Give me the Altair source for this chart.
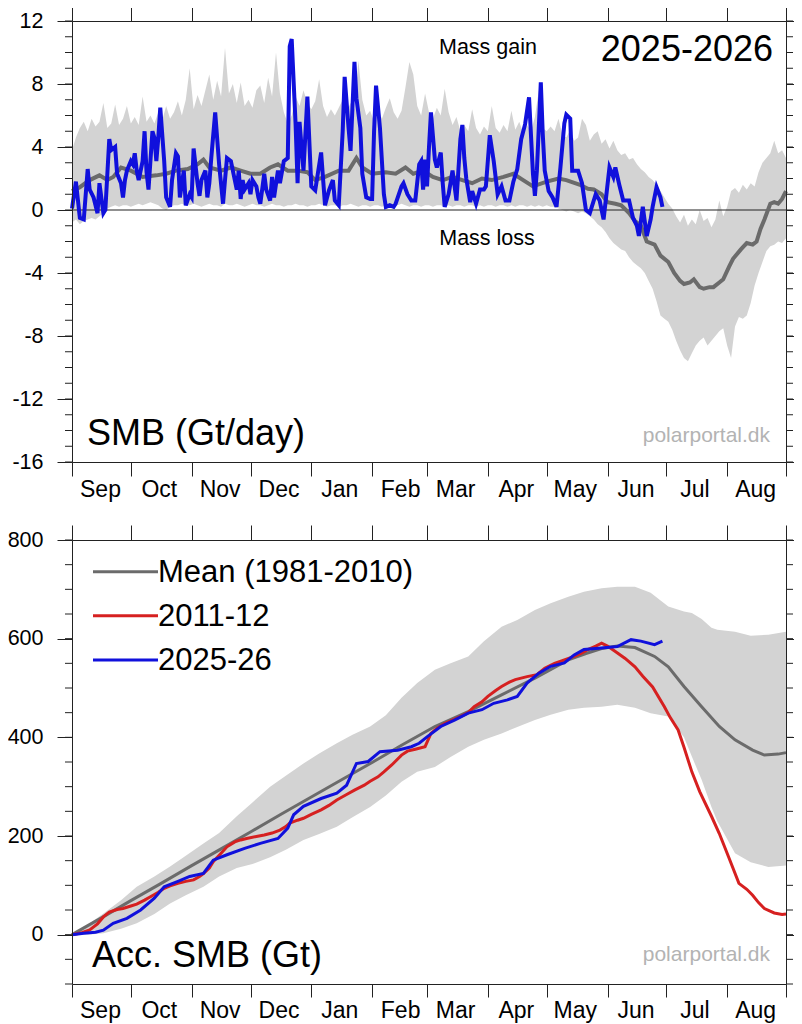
import altair as alt
import pandas as pd

FONT = "Liberation Sans"
AXIS_COLOR = "#222222"
BAND_COLOR = "#d3d3d3"
MEAN_COLOR = "#6b6b6b"
BLUE = "#1010dc"
RED = "#d62020"
WATERMARK = "#b3b3b3"

W = 714
H_TOP = 441
H_BOT = 444

# ---------------- axis categories ----------------
month_starts = [0, 30, 61, 91, 122, 153, 181, 212, 242, 273, 303, 334, 364]
month_names = ["Sep", "Oct", "Nov", "Dec", "Jan", "Feb", "Mar", "Apr", "May", "Jun", "Jul", "Aug"]

top_y_major = [-16, -12, -8, -4, 0, 4, 8, 12]
top_y_minor = list(range(-16, 13))
bot_y_major = [0, 200, 400, 600, 800]
bot_y_minor = list(range(-100, 801, 50))

# ---------------- top panel: daily SMB (Gt/day) ----------------
# 1981-2010 range band, every second day from 1 Sep (day 0) to 31 Aug (day 364)
smb_band_step = 2
smb_band_upper = [
    3.8, 4.6, 5.2, 5.6, 5.0, 5.8, 5.3, 5.6, 6.8, 5.2,
    5.5, 6.7, 5.4, 5.8, 6.6, 5.5, 5.9, 5.4, 7.2, 5.6,
    6.0, 5.5, 6.2, 5.7, 6.6, 5.8, 6.2, 6.9, 6.0, 7.0,
    9.0, 6.4, 7.3, 6.6, 7.6, 8.6, 7.0, 8.2, 7.2, 10.3,
    7.4, 8.0, 6.8, 8.1, 6.6, 7.0, 6.5, 7.6, 7.9, 6.8,
    8.4, 7.2, 10.0, 7.4, 6.2, 5.5, 6.0, 7.2, 6.6, 7.6,
    6.8, 6.4, 6.9, 8.3, 6.6, 5.9, 6.4, 6.0, 6.5, 7.0,
    6.2, 6.8, 6.4, 9.5, 7.0, 6.0, 6.3, 5.6, 6.4, 5.8,
    6.5, 7.1, 6.2, 5.8, 6.3, 7.8, 9.4, 8.6, 6.6, 6.0,
    7.4, 6.2, 5.8, 6.5, 6.0, 7.7, 6.2, 5.4, 5.9, 5.0,
    5.4, 5.0, 6.4, 5.2, 4.8, 5.3, 5.0, 6.6, 5.2, 4.9,
    5.4, 5.0, 6.3, 5.1, 5.6, 4.9, 5.4, 5.0, 5.9, 7.6,
    5.2, 5.0, 5.3, 5.0, 5.8, 4.8, 4.6, 5.1, 4.4, 4.6,
    5.8, 5.4, 4.4, 4.8, 5.0, 4.2, 4.5, 3.9, 4.4, 3.8,
    3.5, 3.6, 3.2, 3.3, 2.9, 2.6, 2.4, 2.1, 1.9, 1.6,
    1.2, 0.8, 0.4, 0.1, -0.4, -0.8, -0.3, -1.0, -0.6, -0.9,
    0.0, -0.7, -0.5, -1.1, -0.6, 0.6, -0.4, 0.2, 1.2, 1.4,
    1.1, 1.6, 1.3, 1.7, 1.5, 2.4, 3.0, 3.3, 3.6, 4.4,
    3.6, 3.8, 3.3,
]
smb_band_lower = [
    -0.8, -0.6, -0.9, -0.7, -0.6, -0.5, -0.6, -0.4, -0.2, 0.1,
    0.2, 0.3, 0.2, 0.3, 0.3, 0.2, 0.3, 0.4, 0.3, 0.4,
    0.5, 0.4, 0.3, 0.1, 0.0, 0.2, 0.3, 0.3, 0.4, 0.3,
    0.3, 0.4, 0.3, 0.2, 0.3, 0.4, 0.3, 0.3, 0.2, 0.4,
    0.3, 0.3, 0.4, 0.3, 0.2, 0.3, 0.4, 0.3, 0.3, 0.2,
    0.3, 0.4, 0.3, 0.3, 0.2, 0.3, 0.3, 0.4, 0.3, 0.3,
    0.2, 0.3, 0.3, 0.4, 0.3, 0.2, 0.3, 0.3, 0.2, 0.3,
    0.3, 0.4, 0.3, 0.2, 0.3, 0.3, 0.2, 0.3, 0.3, 0.2,
    0.3, 0.3, 0.2, 0.3, 0.4, 0.3, 0.2, 0.3, 0.3, 0.2,
    0.3, 0.3, 0.2, 0.3, 0.3, 0.2, 0.3, 0.2, 0.3, 0.3,
    0.2, 0.3, 0.3, 0.2, 0.3, 0.2, 0.3, 0.3, 0.2, 0.3,
    0.3, 0.2, 0.3, 0.2, 0.3, 0.3, 0.2, 0.3, 0.2, 0.3,
    0.2, 0.3, 0.2, 0.2, 0.1, 0.0, -0.1, 0.0, -0.1, -0.2,
    -0.1, -0.2, -0.4, -0.6, -0.9, -1.1, -1.4, -1.8, -2.1, -2.3,
    -2.5, -2.6, -3.0, -3.3, -3.5, -3.7, -4.0, -4.5, -5.0, -5.8,
    -6.7, -6.9, -7.1, -7.6, -8.3, -8.9, -9.4, -9.6, -9.1, -8.6,
    -8.3, -8.1, -8.6, -8.3, -8.0, -7.7, -7.5, -8.6, -9.4, -7.4,
    -6.8, -6.9, -6.7, -5.9, -4.8, -4.0, -3.3, -2.6, -2.3, -2.2,
    -2.0, -2.1, -1.8,
]
# 1981-2010 mean, (day, Gt/day)
smb_mean = [
    (0, 1.2), (4, 1.45), (9, 1.9), (14, 2.2), (18, 1.9), (21, 2.1), (25, 2.7), (30, 2.5),
    (36, 2.1), (43, 2.2), (48, 2.3), (53, 2.5), (59, 2.6), (64, 2.9), (67, 3.2), (70, 2.7),
    (76, 2.5), (81, 2.7), (86, 2.5), (91, 2.3), (96, 2.3), (101, 2.7), (105, 2.9), (110, 2.5),
    (115, 2.5), (120, 2.4), (124, 1.9), (129, 2.1), (136, 2.5), (141, 2.5), (145, 3.3), (148, 2.7),
    (153, 2.3), (160, 2.4), (165, 2.3), (170, 2.7), (174, 2.3), (179, 2.5), (184, 2.1), (189, 1.9),
    (194, 2.1), (199, 1.9), (204, 1.7), (209, 2.0), (214, 1.9), (220, 2.1), (225, 2.3), (230, 1.9),
    (235, 1.5), (242, 1.8), (248, 2.0), (252, 1.9), (259, 1.6), (263, 1.35), (266, 1.3), (270, 1.0),
    (273, 0.5), (277, 0.4), (280, 0.3), (284, -0.2), (287, -0.7), (290, -1.0), (293, -2.0), (297, -2.2),
    (300, -2.9), (304, -3.3), (307, -4.0), (310, -4.5), (312, -4.7), (315, -4.6), (317, -4.4), (320, -4.9),
    (322, -5.0), (325, -4.9), (327, -4.9), (330, -4.6), (332, -4.4), (335, -3.6), (337, -3.1), (341, -2.5),
    (344, -2.1), (347, -2.2), (349, -2.0), (351, -1.2), (353, -0.6), (356, 0.4), (358, 0.5), (360, 0.4),
    (362, 0.7), (364, 1.2),
]
# 2025-26 season, (day, Gt/day)
smb_2025_26 = [
    (0, 0.1), (2, 1.8), (4, -0.5), (6, -0.6), (8, 2.6), (9, 1.3), (11, 0.8), (13, -0.2), (14, 1.7),
    (16, -0.2), (17, 0.0), (19, 4.5), (20, 3.8), (22, 4.0), (23, 2.3), (25, 1.7), (26, 0.8), (27, 1.9),
    (28, 2.5), (30, 3.1), (31, 2.9), (32, 3.6), (33, 2.5), (34, 1.9), (36, 3.1), (37, 5.0), (38, 2.4),
    (39, 1.3), (41, 5.0), (42, 4.6), (43, 3.1), (44, 4.6), (45, 6.5), (47, 3.1), (48, 0.8), (50, 0.2),
    (51, 1.9), (53, 3.6), (54, 3.4), (55, 0.8), (57, 2.5), (58, 0.3), (60, 1.0), (61, 0.8), (62, 3.9),
    (64, 1.7), (65, 0.9), (66, 1.9), (68, 2.5), (69, 0.8), (70, 1.7), (71, 3.3), (73, 6.2), (75, 2.9),
    (77, 0.4), (78, 1.9), (79, 3.3), (81, 3.1), (83, 1.9), (84, 1.3), (85, 2.5), (86, 0.7), (87, 1.9),
    (88, 1.3), (90, 1.7), (91, 1.0), (92, 1.9), (94, 1.5), (95, 0.8), (96, 0.4), (98, 2.3), (99, 1.3),
    (101, 0.6), (102, 2.1), (103, 0.8), (105, 2.5), (106, 1.7), (108, 3.1), (110, 3.3), (111, 10.4),
    (112, 10.85), (114, 5.4), (115, 1.7), (116, 5.6), (118, 2.5), (120, 7.2), (122, 1.5), (124, 1.25),
    (127, 3.65), (129, 0.3), (131, 1.25), (133, 1.9), (134, 0.6), (136, 0.3), (138, 5.0), (139, 8.45),
    (141, 5.2), (142, 3.75), (144, 9.4), (145, 7.1), (147, 5.2), (148, 2.3), (150, 0.8), (152, 0.7),
    (153, 0.7), (154, 5.0), (155, 7.9), (157, 5.2), (159, 1.0), (160, 0.2), (162, 0.3), (164, 0.2),
    (165, 0.4), (168, 1.5), (169, 1.7), (171, 1.0), (173, 0.6), (175, 0.6), (177, 2.9), (178, 3.1),
    (179, 1.3), (180, 3.2), (181, 1.5), (182, 4.0), (183, 6.2), (185, 3.2), (186, 2.7), (188, 3.65),
    (189, 1.7), (190, 0.2), (192, 1.0), (194, 2.5), (196, 0.6), (198, 4.5), (199, 5.4), (200, 3.3),
    (201, 2.0), (203, 0.5), (204, 1.2), (206, 0.4), (208, 1.3), (210, 1.3), (211, 1.5), (213, 4.75),
    (215, 3.1), (217, 1.0), (219, 1.5), (221, 0.6), (223, 0.6), (225, 1.8), (227, 2.6), (229, 4.5),
    (231, 5.45), (233, 7.15), (235, 2.3), (236, 0.9), (237, 2.5), (239, 8.1), (240, 4.8), (241, 2.5),
    (243, 1.2), (245, 0.8), (247, 0.2), (249, 2.7), (251, 5.5), (252, 6.05), (254, 5.8), (255, 2.5),
    (258, 2.5), (260, 1.7), (262, 0.0), (264, -0.2), (267, 1.0), (269, 0.6), (271, -0.6), (274, 2.7),
    (276, 2.1), (277, 2.7), (279, 1.6), (281, 0.6), (284, 0.6), (286, -0.5), (288, -1.0), (289, -1.65),
    (291, 0.2), (293, -1.65), (295, -0.6), (296, 0.2), (298, 1.45), (300, 0.8), (301, 0.2),
]

# ---------------- bottom panel: accumulated SMB (Gt) ----------------
acc_band_days = [0, 8, 16, 25, 33, 42, 50, 58, 67, 75, 84, 92, 101, 109, 118, 126, 135, 143, 152, 160,
                 168, 176, 185, 193, 202, 210, 219, 227, 236, 244, 253, 261, 270, 278, 287, 295, 304, 312,
                 316, 321, 326, 329, 338, 346, 355, 364]
acc_band_upper = [0, 20, 43, 70, 97, 118, 138, 160, 185, 206, 240, 268, 300, 322, 347, 367, 388, 405, 422, 445,
                  480, 510, 537, 550, 564, 595, 624, 638, 658, 672, 685, 695, 702, 705, 705, 693, 665, 655,
                  652, 640, 622, 618, 614, 606, 608, 614]
acc_band_lower = [0, 0, 3, 12, 23, 42, 63, 80, 97, 118, 135, 143, 157, 172, 192, 204, 219, 238, 259, 282,
                  310, 330, 340, 360, 381, 395, 408, 421, 435, 446, 456, 460, 462, 466, 460, 449, 442, 400,
                  361, 314, 259, 230, 165, 147, 137, 140]
acc_mean = [
    (0, 0), (15, 34), (30, 69), (45, 103), (61, 140), (76, 174), (91, 208), (107, 245), (122, 279),
    (137, 313), (153, 349), (168, 384), (185, 422), (202, 452), (219, 486), (236, 520), (253, 557),
    (262, 570), (270, 580), (278, 585), (287, 582), (297, 564), (304, 543), (312, 503), (321, 462),
    (330, 422), (338, 395), (347, 374), (353, 364), (360, 366), (364, 369),
]
acc_2011_12 = [
    (0, 0), (5, 4), (9, 9.5), (13, 22), (16, 36), (19, 46), (23, 51), (26, 53), (30, 58), (33, 62),
    (37, 70), (40, 77), (44, 86), (47, 94), (50, 99), (54, 104), (58, 108), (62, 111), (65, 118), (67, 124),
    (70, 135), (72, 148), (76, 165), (79, 178), (83, 188), (86, 192), (89, 195), (94, 199), (98, 202), (102, 206),
    (106, 212), (109, 219), (111, 226), (115, 232), (118, 236), (122, 244), (127, 253), (131, 262), (135, 273), (140, 284),
    (144, 293), (149, 303), (152, 311), (156, 320), (159, 330), (163, 344), (168, 364), (171, 372), (175, 376), (180, 381),
    (183, 408), (186, 418), (190, 428), (194, 435), (198, 442), (202, 450), (205, 462), (209, 472), (212, 483), (216, 495),
    (219, 503), (223, 512), (226, 517), (232, 523), (237, 527), (241, 540), (246, 550), (251, 557), (256, 564), (260, 571),
    (263, 578), (267, 585), (270, 591), (273, 585), (277, 574), (282, 560), (287, 543), (291, 524), (296, 502), (302, 462),
    (305, 440), (309, 415), (312, 380), (316, 330), (320, 290), (326, 240), (330, 205), (335, 155), (340, 104), (344, 92),
    (347, 80), (350, 65), (353, 53), (358, 44), (362, 41), (364, 42),
]
acc_2025_26 = [
    (0, 0), (6, 3), (12, 5), (16, 9), (21, 23), (28, 33), (35, 50), (42, 74), (47, 97), (54, 108),
    (60, 118), (67, 124), (72, 151), (79, 162), (88, 175), (96, 185), (105, 195), (110, 216), (113, 243), (118, 260),
    (127, 276), (135, 287), (140, 303), (145, 347), (151, 351), (157, 371), (166, 374), (173, 381), (177, 388), (181, 401),
    (188, 422), (195, 435), (202, 449), (209, 456), (215, 469), (222, 476), (227, 483), (232, 510), (238, 530), (244, 544),
    (251, 551), (256, 567), (261, 578), (270, 581), (278, 584), (285, 598), (290, 595), (297, 588), (301, 595),
]

legend_labels = ["Mean (1981-2010)", "2011-12", "2025-26"]
legend_colors = [MEAN_COLOR, RED, BLUE]

# ---------------- tables ----------------
smb_band_df = pd.DataFrame({
    "day": list(range(0, 365, smb_band_step)),
    "lo": smb_band_lower,
    "hi": smb_band_upper,
})
smb_mean_df = pd.DataFrame(smb_mean, columns=["day", "v"])
smb_cur_df = pd.DataFrame(smb_2025_26, columns=["day", "v"])
acc_band_df = pd.DataFrame({"day": acc_band_days, "lo": acc_band_lower, "hi": acc_band_upper})
acc_mean_df = pd.DataFrame(acc_mean, columns=["day", "v"])
acc_2011_df = pd.DataFrame(acc_2011_12, columns=["day", "v"])
acc_cur_df = pd.DataFrame(acc_2025_26, columns=["day", "v"])

label_expr = ("[" + ",".join("'%s'" % m for m in month_names) + ",''][indexof(["
              + ",".join(str(v) for v in month_starts) + "], datum.value)]")


def ax(**kw):
    base = dict(grid=False, title=None, domainColor=AXIS_COLOR, tickColor=AXIS_COLOR,
                domainWidth=1, tickWidth=1, zindex=1, labelFont=FONT, labelColor="black",
                labelOverlap=False, labelFlush=False, labelBound=False)
    base.update(kw)
    return alt.Axis(**base)


xscale = alt.Scale(domain=[0, 364], nice=False, zero=False)


def x_bottom(tick):
    return ax(orient="bottom", values=month_starts, labelExpr=label_expr, labelOffset=28,
              tickSize=tick, labelPadding=2, labelFontSize=23)


def x_top():
    return ax(orient="top", values=month_starts, labels=False, tickSize=15)


def y_left(values):
    return ax(orient="left", values=values, labelExpr="'' + datum.value", tickSize=15,
              labelPadding=14, labelFontSize=21.5)


def y_right(values):
    return ax(orient="right", values=values, labels=False, tickSize=15)


def text_layer(txt, x, y, size, align="left", color="black"):
    return alt.Chart(pd.DataFrame({"t": [txt]})).mark_text(
        font=FONT, fontSize=size, align=align, baseline="alphabetic", color=color
    ).encode(x=alt.value(x), y=alt.value(y), text="t:N")


def minor_ticks(values, yscale):
    df = pd.DataFrame({"v": values})
    left = alt.Chart(df).mark_rule(color=AXIS_COLOR, strokeWidth=1).encode(
        y=alt.Y("v:Q", scale=yscale, axis=None), x=alt.value(-7), x2=alt.value(0))
    right = alt.Chart(df).mark_rule(color=AXIS_COLOR, strokeWidth=1).encode(
        y=alt.Y("v:Q", scale=yscale, axis=None), x=alt.value(W), x2=alt.value(W + 7))
    return [left, right]


# ---------------- top panel ----------------
ys_top = alt.Scale(domain=[-16, 12], nice=False, zero=False)

top_band = alt.Chart(smb_band_df).mark_area(color=BAND_COLOR, opacity=1).encode(
    x=alt.X("day:Q", scale=xscale, axis=x_bottom(14)),
    y=alt.Y("lo:Q", scale=ys_top, axis=y_left(top_y_major)),
    y2="hi:Q",
)
top_zero = alt.Chart(pd.DataFrame({"v": [0]})).mark_rule(color=AXIS_COLOR, strokeWidth=1).encode(
    y=alt.Y("v:Q", scale=ys_top, axis=None))
top_mean = alt.Chart(smb_mean_df).mark_line(color=MEAN_COLOR, strokeWidth=4).encode(
    x=alt.X("day:Q", scale=xscale, axis=x_top()),
    y=alt.Y("v:Q", scale=ys_top, axis=y_right(top_y_major)),
)
top_cur = alt.Chart(smb_cur_df).mark_line(color=BLUE, strokeWidth=4).encode(
    x=alt.X("day:Q", scale=xscale, axis=None),
    y=alt.Y("v:Q", scale=ys_top, axis=None),
)
top_texts = [
    text_layer("Mass gain", 416, 33, 21.5, align="center"),
    text_layer("Mass loss", 415, 224, 21.5, align="center"),
    text_layer("2025-2026", 701, 40, 36, align="right"),
    text_layer("SMB (Gt/day)", 15, 424, 36),
    text_layer("polarportal.dk", 698, 421, 21, align="right", color=WATERMARK),
]
top = alt.layer(
    top_band, *minor_ticks(top_y_minor, ys_top), top_zero, top_mean, top_cur, *top_texts
).resolve_axis(x="independent", y="independent").properties(width=W, height=H_TOP)

# ---------------- bottom panel ----------------
ys_bot = alt.Scale(domain=[-100, 800], nice=False, zero=False)

bot_band = alt.Chart(acc_band_df).mark_area(color=BAND_COLOR, opacity=1).encode(
    x=alt.X("day:Q", scale=xscale, axis=x_bottom(13)),
    y=alt.Y("lo:Q", scale=ys_bot, axis=y_left(bot_y_major)),
    y2="hi:Q",
)
bot_mean = alt.Chart(acc_mean_df).mark_line(color=MEAN_COLOR, strokeWidth=3).encode(
    x=alt.X("day:Q", scale=xscale, axis=x_top()),
    y=alt.Y("v:Q", scale=ys_bot, axis=y_right(bot_y_major)),
)
bot_2011 = alt.Chart(acc_2011_df).mark_line(color=RED, strokeWidth=3).encode(
    x=alt.X("day:Q", scale=xscale, axis=None),
    y=alt.Y("v:Q", scale=ys_bot, axis=None),
)
bot_cur = alt.Chart(acc_cur_df).mark_line(color=BLUE, strokeWidth=3).encode(
    x=alt.X("day:Q", scale=xscale, axis=None),
    y=alt.Y("v:Q", scale=ys_bot, axis=None),
)

legend_layers = []
legend_line_y = [31.7, 75.7, 120]
for i, (lab, col) in enumerate(zip(legend_labels, legend_colors)):
    ly = legend_line_y[i]
    legend_layers.append(
        alt.Chart(pd.DataFrame({"t": [lab]})).mark_rule(color=col, strokeWidth=3).encode(
            x=alt.value(21), x2=alt.value(86), y=alt.value(ly))
    )
    legend_layers.append(text_layer(lab, 86, ly + 10, 31))

bot_texts = [
    text_layer("Acc. SMB (Gt)", 20, 427, 36),
    text_layer("polarportal.dk", 698, 421, 21, align="right", color=WATERMARK),
]
bottom = alt.layer(
    bot_band, *minor_ticks(bot_y_minor, ys_bot), bot_mean, bot_2011, bot_cur, *legend_layers, *bot_texts
).resolve_axis(x="independent", y="independent").properties(width=W, height=H_BOT)

chart = alt.vconcat(top, bottom, spacing=78, bounds="flush").properties(
    autosize=alt.AutoSizeParams(type="none"),
    padding={"left": 64, "top": 13, "right": 8, "bottom": 1003},
).configure_view(stroke="transparent")

chart.save("out.html", embed_options={"renderer": "svg", "actions": False})
